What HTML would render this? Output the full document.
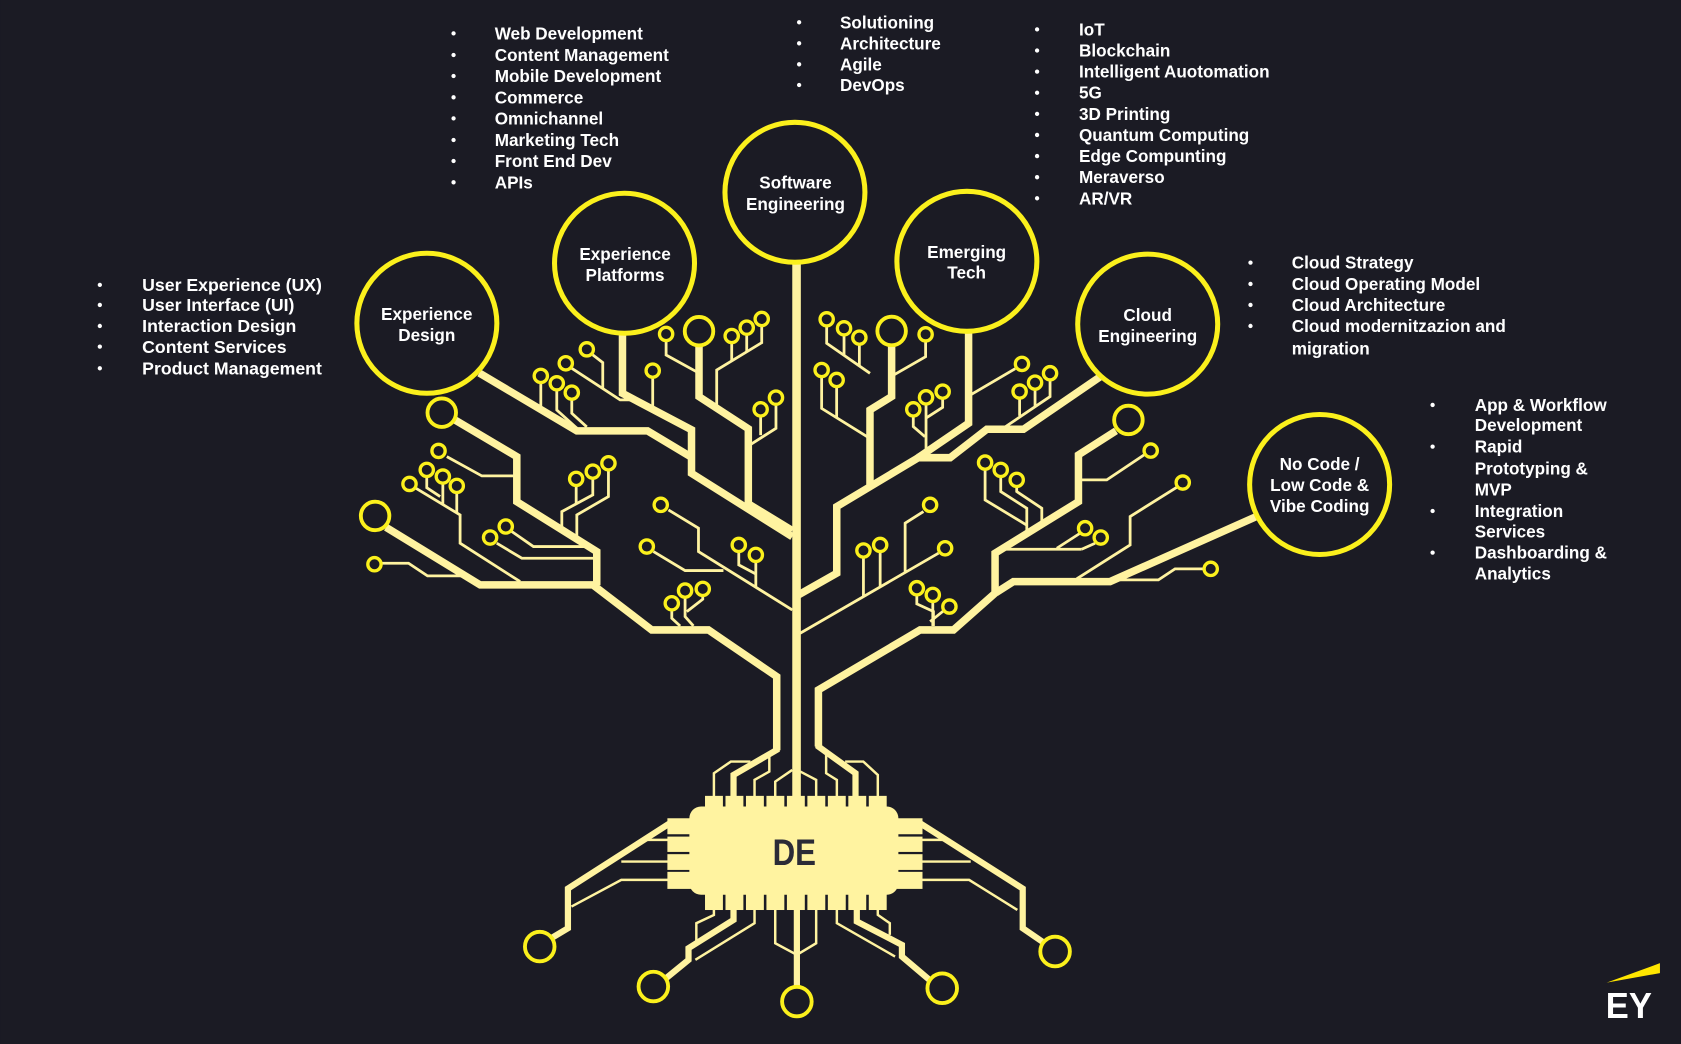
<!DOCTYPE html>
<html><head><meta charset="utf-8"><style>
html,body{margin:0;padding:0;background:#1B1B24;}
svg{display:block;}
</style></head><body>
<svg width="1681" height="1044" viewBox="0 0 1568 974" xmlns="http://www.w3.org/2000/svg">
<rect x="0" y="0" width="1568" height="974" fill="#1B1B24"/>

<!-- THICK TRACES -->
<g fill="none" stroke="#FFF3A0" stroke-width="7" stroke-linejoin="miter" stroke-linecap="butt">
  <path d="M743 244 V744" stroke-width="8"/>
  <path d="M447 348 L538 402 H604 L644 426"/>
  <path d="M580.6 310 V367 L645 401 V441.6 L739 500.7"/>
  <path d="M652 322 V370 L698 400 V470 L739 495"/>
  <path d="M423 391 L482 426 V468 L556.6 514.6 V546"/>
  <path d="M360 492 L447.8 545.7 H553 L607.9 587.7 H660.8 L724.5 631.2 V700"/>
  <path d="M903.5 308 V394.9 L855 428 L780.5 472.6 V534.8 L743 556"/>
  <path d="M1027 351 L954.7 400.5 H920.5 L886.3 427 H855"/>
  <path d="M831.7 322 V370 L811.5 382.5 V452"/>
  <path d="M1041 402 L1006 424.4 V468 L928.2 516.1 V553.4 L889.4 587.7 H858.3 L763.4 643.6 V696.5"/>
  <path d="M1173 481.5 L1035.5 542.6 H945.3 L929 553"/>
</g>

<!-- CHIP THICK TRACES -->
<g fill="none" stroke="#FFF3A0" stroke-width="5.8" stroke-linejoin="miter">
  <path d="M724.5 697 V699.6 L684.2 723 V744"/>
  <path d="M763.4 694 V696.5 L798 721.4 V744"/>
  <path d="M684.2 848 V858.2 L642.2 884.6 V895.5 L621.3 912.6"/>
  <path d="M743.3 848 V921"/>
  <path d="M799.2 848 V859.7 L841.3 881.5 V892.4 L867 914.2"/>
  <path d="M624 768.5 L529.7 829 V866 L513 876"/>
  <path d="M859 768.5 L954 829 V866 L973 879"/>
</g>

<!-- CHIP THIN TRACES -->
<g fill="none" stroke="#FFF3A0" stroke-width="2.3" stroke-linejoin="miter">
  <path d="M624 783.6 H597.2"/>
  <path d="M624 803.8 H579.5"/>
  <path d="M624 820.9 H579.5 L533 845.8"/>
  <path d="M859 783.6 H886.3"/>
  <path d="M859 803.8 H905.5"/>
  <path d="M859 820.9 H904 L949 848.9"/>
  <path d="M665.9 744 V721.4 L681.7 710.5 H700"/>
  <path d="M703.8 744 V727.6 L717.6 719.8 V704"/>
  <path d="M723.1 744 V729.2 L739 718.3"/>
  <path d="M761.3 744 V727.6 L746.5 719.8"/>
  <path d="M780.6 744 V727.6 L770.6 721.4 V703"/>
  <path d="M818.8 744 V723 L805.3 710.5 H788.3"/>
  <path d="M665.9 848 V853.6 L649.5 861.3 V878.4"/>
  <path d="M703.8 848 V861.3 L648.6 895.5"/>
  <path d="M723.1 848 V880 L743.3 890.8 L761.3 880 V848"/>
  <path d="M780.6 848 V861.3 L834.9 892.4"/>
  <path d="M818.8 848 V853.5 L830 861.3 V872.2"/>
</g>

<!-- THIN BRANCH TRACES -->
<g fill="none" stroke="#FFF3A0" stroke-width="2.6" stroke-linejoin="miter">
  <path d="M552.9 331.1 L562.2 338.3 V362.4"/>
  <path d="M533.3 343.6 L578.4 373.1 H595"/>
  <path d="M504.4 357 V383"/>
  <path d="M519.3 364 V382.5 L538 399.5"/>
  <path d="M533.3 372.5 V385.6 L547.3 398.3"/>
  <path d="M608.8 352 V382"/>
  <path d="M621.3 318 V331.2 L650 347"/>
  <path d="M710.5 304 V319.7 L668.5 345.2 V382"/>
  <path d="M682.5 320 V336.7"/>
  <path d="M696.5 312 V328.2"/>
  <path d="M709.5 388 V406"/>
  <path d="M723.8 377 V399.6 L698 416"/>

  <path d="M416.7 426 L449.4 444 H482"/>
  <path d="M387 455 L429.1 480.4 V506.8 L485.1 542.6"/>
  <path d="M398 444.6 V455 L410.5 463.3"/>
  <path d="M413 451 V470.5"/>
  <path d="M426 459.5 V478.4"/>
  <path d="M355.5 525.5 H381 L398.7 537.3 H433.5"/>
  <path d="M463.3 506.8 L486.7 520.8 H556"/>
  <path d="M477.3 495.9 L497.5 509.9 H547.3 L556 515"/>
  <path d="M552.9 446 V461.7 L524 477.3 V494.2"/>
  <path d="M567.5 438.5 V463.3 L538 480.4 V503"/>
  <path d="M537.4 453 V470"/>
  <path d="M623.5 475.7 L651.5 492.8 V514.6 L739 569"/>
  <path d="M609.5 514.6 L639 532.3 H674.8"/>
  <path d="M689.1 514.6 V527 L705 535.5"/>
  <path d="M705 524 V548"/>
  <path d="M626.6 569 V576.8 L634.4 584"/>
  <path d="M639 557.2 V575.2 L646.8 584"/>
  <path d="M655.5 555.6 V559 L640.6 570.6"/>

  <path d="M771.1 304 V320.3 L811.5 348.3"/>
  <path d="M787.3 312.5 V331.5"/>
  <path d="M801.6 321 V341.4"/>
  <path d="M863.4 318 V332.8 L831.7 351"/>
  <path d="M766.4 351.5 V381 L811.5 409"/>
  <path d="M780.4 360.7 V389.8"/>
  <path d="M851.9 388 V398 L862.8 407.4"/>
  <path d="M863.8 377 V419"/>
  <path d="M879.3 371.6 V380 L863.8 390"/>
  <path d="M947 344 L906 368"/>
  <path d="M979.5 354.5 V370 L938 398"/>
  <path d="M965.5 363 V379.5"/>
  <path d="M951.1 371.5 V388"/>

  <path d="M1067.2 424.4 L1032.4 447.7 H1006"/>
  <path d="M1097.7 454.6 L1054.2 481.9 V508.4 L1004.4 540"/>
  <path d="M1122.6 530.7 H1096.1 L1080.6 541 H1044.8"/>
  <path d="M935 512.4 H1009"/>
  <path d="M1007.5 497.5 L985.8 511.5"/>
  <path d="M1021.5 506.8 L1009 512.4"/>
  <path d="M918.9 438 V466.4 L957.8 490"/>
  <path d="M933.5 444.6 V458.6 L957.8 474.2 V497"/>
  <path d="M948.4 454 V458.6 L971.8 474.2 V489"/>
  <path d="M746.3 590.8 L875.4 516.1"/>
  <path d="M805.4 520 V556"/>
  <path d="M821 514.6 V547"/>
  <path d="M861.4 477.3 L844.3 488.1 V533.6"/>
  <path d="M855.2 555 V563.4 L870.7 570.5 V584"/>
  <path d="M870.1 561.2 V584"/>
  <path d="M880 570 L867.6 579.9"/>
</g>

<!-- CHIP -->
<g fill="#FFF3A0">
  <rect x="643" y="752.4" width="195" height="82.4" rx="11"/>
  <rect x="657.6" y="742.5" width="16.7" height="12"/>
  <rect x="676.7" y="742.5" width="16.7" height="12"/>
  <rect x="695.8" y="742.5" width="16.7" height="12"/>
  <rect x="714.9" y="742.5" width="16.7" height="12"/>
  <rect x="734" y="742.5" width="16.7" height="12"/>
  <rect x="753.1" y="742.5" width="16.7" height="12"/>
  <rect x="772.2" y="742.5" width="16.7" height="12"/>
  <rect x="791.3" y="742.5" width="16.7" height="12"/>
  <rect x="810.4" y="742.5" width="16.7" height="12"/>
  <rect x="657.6" y="833" width="16.7" height="16"/>
  <rect x="676.7" y="833" width="16.7" height="16"/>
  <rect x="695.8" y="833" width="16.7" height="16"/>
  <rect x="714.9" y="833" width="16.7" height="16"/>
  <rect x="734" y="833" width="16.7" height="16"/>
  <rect x="753.1" y="833" width="16.7" height="16"/>
  <rect x="772.2" y="833" width="16.7" height="16"/>
  <rect x="791.3" y="833" width="16.7" height="16"/>
  <rect x="810.4" y="833" width="16.7" height="16"/>
  <rect x="622.5" y="763.4" width="22" height="14.9"/>
  <rect x="622.5" y="780.5" width="22" height="14.3"/>
  <rect x="622.5" y="796.9" width="22" height="14.7"/>
  <rect x="622.5" y="813.4" width="22" height="15.9"/>
  <rect x="836.5" y="763.4" width="24" height="14.9"/>
  <rect x="836.5" y="780.5" width="24" height="14.3"/>
  <rect x="836.5" y="796.9" width="24" height="14.7"/>
  <rect x="836.5" y="813.4" width="24" height="15.9"/>
</g>
<text x="740.9" y="806.9" font-family="Liberation Sans, sans-serif" font-weight="bold" font-size="34.8" fill="#2B2B37" text-anchor="middle" textLength="40.5" lengthAdjust="spacingAndGlyphs">DE</text>

<!-- SMALL & BIG CIRCLES -->
<g fill="#1B1B24" stroke="#FBF01C" stroke-width="3.1">
  <circle cx="547.3" cy="325.9" r="6.2"/><circle cx="527.7" cy="338.9" r="6.2"/>
  <circle cx="504.4" cy="350.7" r="6.2"/><circle cx="519.3" cy="357.6" r="6.2"/>
  <circle cx="533.3" cy="366.3" r="6.2"/><circle cx="608.8" cy="345.8" r="6.2"/>
  <circle cx="621.3" cy="311.6" r="6.2"/><circle cx="682.5" cy="313.5" r="6.2"/>
  <circle cx="696.5" cy="305.7" r="6.2"/><circle cx="710.5" cy="297.6" r="6.2"/>
  <circle cx="709.5" cy="381.9" r="6.2"/><circle cx="723.8" cy="371" r="6.2"/>
  <circle cx="409" cy="420.7" r="6.2"/><circle cx="381.9" cy="451.5" r="6.2"/>
  <circle cx="398" cy="438.4" r="6.2"/><circle cx="413" cy="444.6" r="6.2"/>
  <circle cx="426" cy="453.3" r="6.2"/><circle cx="349.2" cy="526.4" r="6.2"/>
  <circle cx="457.1" cy="501.5" r="6.2"/><circle cx="471.7" cy="491.2" r="6.2"/>
  <circle cx="537.4" cy="446.8" r="6.2"/><circle cx="552.9" cy="440" r="6.2"/>
  <circle cx="567.5" cy="432.2" r="6.2"/><circle cx="616.3" cy="471" r="6.2"/>
  <circle cx="603.3" cy="509.9" r="6.2"/><circle cx="689.1" cy="508.4" r="6.2"/>
  <circle cx="705" cy="517.7" r="6.2"/><circle cx="626.6" cy="562.8" r="6.2"/>
  <circle cx="639" cy="551" r="6.2"/><circle cx="655.5" cy="549.4" r="6.2"/>
  <circle cx="771.1" cy="297.9" r="6.2"/><circle cx="787.3" cy="306.3" r="6.2"/>
  <circle cx="801.6" cy="315" r="6.2"/><circle cx="863.4" cy="311.9" r="6.2"/>
  <circle cx="766.4" cy="345.2" r="6.2"/><circle cx="780.4" cy="354.5" r="6.2"/>
  <circle cx="851.9" cy="381.9" r="6.2"/><circle cx="863.8" cy="370.7" r="6.2"/>
  <circle cx="879.3" cy="365.4" r="6.2"/><circle cx="953.3" cy="339.5" r="6.2"/>
  <circle cx="951.1" cy="365.3" r="6.2"/><circle cx="965.5" cy="357" r="6.2"/>
  <circle cx="979.5" cy="348.2" r="6.2"/>
  <circle cx="1073.4" cy="420.4" r="6.2"/><circle cx="1103.3" cy="450.2" r="6.2"/>
  <circle cx="1129.4" cy="530.7" r="6.2"/><circle cx="1012.2" cy="492.8" r="6.2"/>
  <circle cx="1026.8" cy="501.5" r="6.2"/><circle cx="918.9" cy="431.6" r="6.2"/>
  <circle cx="933.5" cy="438.4" r="6.2"/><circle cx="948.4" cy="447.7" r="6.2"/>
  <circle cx="805.4" cy="513.6" r="6.2"/><circle cx="821" cy="508.4" r="6.2"/>
  <circle cx="867.6" cy="471" r="6.2"/><circle cx="881.6" cy="511.5" r="6.2"/>
  <circle cx="855.2" cy="548.8" r="6.2"/><circle cx="870.1" cy="555" r="6.2"/>
  <circle cx="885.6" cy="565.9" r="6.2"/>
</g>
<g fill="#1B1B24" stroke="#FBF01C" stroke-width="3.6">
  <circle cx="412" cy="385" r="13.3"/>
  <circle cx="349.8" cy="481.3" r="13.3"/>
  <circle cx="652" cy="309" r="13.3"/>
  <circle cx="831.7" cy="308.8" r="13.3"/>
  <circle cx="1052.6" cy="391.8" r="13.3"/>
  <circle cx="503.4" cy="883.1" r="13.8"/>
  <circle cx="609.4" cy="920.4" r="13.8"/>
  <circle cx="743.3" cy="934.4" r="13.8"/>
  <circle cx="878.9" cy="922" r="13.8"/>
  <circle cx="984.2" cy="887.7" r="13.8"/>
</g>

<!-- CATEGORY CIRCLES -->
<g fill="#1B1B24" stroke="#FBF01C" stroke-width="4.7">
  <circle cx="398.1" cy="301.6" r="65.3"/>
  <circle cx="582.5" cy="245.6" r="65.3"/>
  <circle cx="741.5" cy="179.4" r="65.3"/>
  <circle cx="901.9" cy="243.8" r="65.3"/>
  <circle cx="1070.6" cy="302.4" r="65.3"/>
  <circle cx="1231" cy="452" r="65.3"/>
</g>

<g font-family="Liberation Sans, sans-serif" font-weight="bold" font-size="16" fill="#FFFFFF" text-anchor="middle">
  <text x="398" y="298.7">Experience</text>
  <text x="398" y="318">Design</text>
  <text x="583" y="242.4">Experience</text>
  <text x="583" y="262">Platforms</text>
  <text x="742" y="176">Software</text>
  <text x="742" y="195.7">Engineering</text>
  <text x="901.7" y="240.9">Emerging</text>
  <text x="901.7" y="259.8">Tech</text>
  <text x="1070.6" y="299.3">Cloud</text>
  <text x="1070.6" y="318.9">Engineering</text>
  <text x="1231" y="438.7">No Code /</text>
  <text x="1231" y="457.9">Low Code &amp;</text>
  <text x="1231" y="477.5">Vibe Coding</text>
</g>

<!-- LISTS -->
<g fill="#FFFFFF">
  <circle cx="93" cy="265.8" r="2"/><circle cx="93" cy="284.5" r="2"/><circle cx="93" cy="304.1" r="2"/><circle cx="93" cy="323.4" r="2"/><circle cx="93" cy="343.6" r="2"/>
  <circle cx="423" cy="31.1" r="2"/><circle cx="423" cy="51.3" r="2"/><circle cx="423" cy="70.9" r="2"/><circle cx="423" cy="90.8" r="2"/><circle cx="423" cy="110.4" r="2"/><circle cx="423" cy="130.6" r="2"/><circle cx="423" cy="150.2" r="2"/><circle cx="423" cy="170.1" r="2"/>
  <circle cx="745.4" cy="20.8" r="2"/><circle cx="745.4" cy="40.4" r="2"/><circle cx="745.4" cy="60" r="2"/><circle cx="745.4" cy="79.3" r="2"/>
  <circle cx="967.4" cy="27.4" r="2"/><circle cx="967.4" cy="47.1" r="2"/><circle cx="967.4" cy="66.8" r="2"/><circle cx="967.4" cy="86.5" r="2"/><circle cx="967.4" cy="106.2" r="2"/><circle cx="967.4" cy="125.9" r="2"/><circle cx="967.4" cy="145.6" r="2"/><circle cx="967.4" cy="165.3" r="2"/><circle cx="967.4" cy="185" r="2"/>
  <circle cx="1166.5" cy="245" r="2"/><circle cx="1166.5" cy="264.9" r="2"/><circle cx="1166.5" cy="284.5" r="2"/><circle cx="1166.5" cy="304.1" r="2"/>
  <circle cx="1336.4" cy="377.8" r="2"/><circle cx="1336.4" cy="416.7" r="2"/><circle cx="1336.4" cy="476.7" r="2"/><circle cx="1336.4" cy="515.6" r="2"/>
</g>
<g font-family="Liberation Sans, sans-serif" font-weight="bold" font-size="16" fill="#FFFFFF">
  <text x="132.5" y="271.5" font-size="16.5">User Experience (UX)</text>
  <text x="132.5" y="290.2" font-size="16.5">User Interface (UI)</text>
  <text x="132.5" y="309.8" font-size="16.5">Interaction Design</text>
  <text x="132.5" y="329.1" font-size="16.5">Content Services</text>
  <text x="132.5" y="349.3" font-size="16.5">Product Management</text>

  <text x="461.4" y="36.7">Web Development</text>
  <text x="461.4" y="56.9">Content Management</text>
  <text x="461.4" y="76.5">Mobile Development</text>
  <text x="461.4" y="96.4">Commerce</text>
  <text x="461.4" y="116">Omnichannel</text>
  <text x="461.4" y="136.2">Marketing Tech</text>
  <text x="461.4" y="155.8">Front End Dev</text>
  <text x="461.4" y="175.7">APIs</text>

  <text x="783.5" y="26.4">Solutioning</text>
  <text x="783.5" y="46">Architecture</text>
  <text x="783.5" y="65.6">Agile</text>
  <text x="783.5" y="84.9">DevOps</text>

  <text x="1006.5" y="33">IoT</text>
  <text x="1006.5" y="52.7">Blockchain</text>
  <text x="1006.5" y="72.4">Intelligent Auotomation</text>
  <text x="1006.5" y="92.1">5G</text>
  <text x="1006.5" y="111.8">3D Printing</text>
  <text x="1006.5" y="131.5">Quantum Computing</text>
  <text x="1006.5" y="151.2">Edge Compunting</text>
  <text x="1006.5" y="170.9">Meraverso</text>
  <text x="1006.5" y="190.6">AR/VR</text>

  <text x="1205" y="250.6">Cloud Strategy</text>
  <text x="1205" y="270.5">Cloud Operating Model</text>
  <text x="1205" y="290.1">Cloud Architecture</text>
  <text x="1205" y="309.7">Cloud modernitzazion and</text>
  <text x="1205" y="330.5">migration</text>

  <text x="1375.7" y="383.4">App &amp; Workflow</text>
  <text x="1375.7" y="402.1">Development</text>
  <text x="1375.7" y="422.3">Rapid</text>
  <text x="1375.7" y="442.5">Prototyping &amp;</text>
  <text x="1375.7" y="462.1">MVP</text>
  <text x="1375.7" y="482.3">Integration</text>
  <text x="1375.7" y="501.6">Services</text>
  <text x="1375.7" y="521.2">Dashboarding &amp;</text>
  <text x="1375.7" y="540.5">Analytics</text>
</g>

<!-- EY LOGO -->
<polygon points="1498.8,916.7 1548.5,898.6 1548.5,907.9" fill="#FFE600"/>
<text x="1498" y="949.6" font-family="Liberation Sans, sans-serif" font-weight="bold" font-size="34" fill="#FFFFFF" textLength="43" lengthAdjust="spacingAndGlyphs">EY</text>
</svg>
</body></html>
